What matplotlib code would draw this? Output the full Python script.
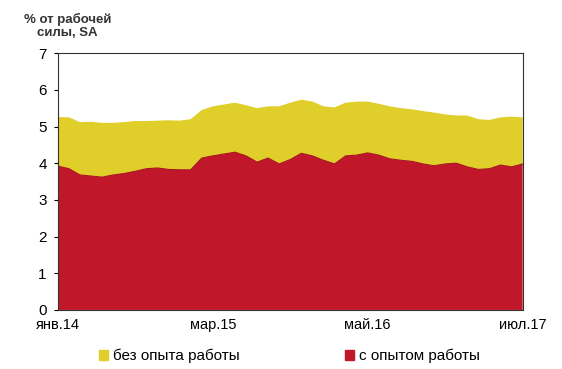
import numpy as np
import matplotlib
matplotlib.use("Agg")
import matplotlib.pyplot as plt
from matplotlib.patches import Patch

plt.rcParams["font.family"] = ["Liberation Sans", "DejaVu Sans"]

# monthly, Jan 2014 .. Jul 2017, % of labour force, seasonally adjusted
with_experience = [
    3.92, 3.85, 3.68, 3.65, 3.62, 3.68, 3.72, 3.78, 3.85, 3.87,
    3.83, 3.82, 3.82, 4.14, 4.20, 4.25, 4.30, 4.20, 4.03, 4.14,
    3.98, 4.10, 4.27, 4.20, 4.08, 3.98, 4.20, 4.22, 4.28, 4.22,
    4.12, 4.08, 4.05, 3.98, 3.93, 3.98, 4.00, 3.90, 3.83, 3.85,
    3.95, 3.90, 3.98,
]
without_experience = [
    1.34, 1.40, 1.44, 1.48, 1.48, 1.42, 1.40, 1.37, 1.30, 1.29,
    1.34, 1.34, 1.38, 1.31, 1.35, 1.35, 1.35, 1.38, 1.47, 1.41,
    1.57, 1.55, 1.46, 1.48, 1.47, 1.54, 1.45, 1.46, 1.40, 1.40,
    1.43, 1.42, 1.42, 1.44, 1.45, 1.35, 1.30, 1.40, 1.37, 1.33,
    1.30, 1.37, 1.27,
]
tick_months = [0, 14, 28, 42]
tick_labels = ["янв.14", "мар.15", "май.16", "июл.17"]
series_names = ["без опыта работы", "с опытом работы"]

RED = "#c0182a"
YELLOW = "#e0cf2a"

months = np.arange(len(with_experience))

fig = plt.figure(figsize=(5.62, 3.69), dpi=100)
ax = fig.add_axes([0.103, 0.160, 0.827, 0.696])

ax.stackplot(months, with_experience, without_experience,
             colors=[RED, YELLOW], linewidth=0)
# thin darker edge along the top of the red area
ax.plot(months, with_experience, color="#a8141f", linewidth=0.8)

ax.set_xlim(0, len(months) - 1)
ax.set_ylim(0, 7)
ax.set_yticks(range(0, 8))
ax.set_xticks(tick_months)
ax.set_xticklabels(tick_labels)
ax.tick_params(axis="y", length=3, width=0.8, labelsize=11, pad=5)
ax.tick_params(axis="x", length=0, labelsize=10.5, pad=6)
for s in ax.spines.values():
    s.set_linewidth(0.8)
    s.set_color("#333333")

fig.text(0.12, 0.93, "% от рабочей\nсилы, SA", ha="center", va="center",
         fontsize=9.5, fontweight="bold", linespacing=1.15, color="#333333")

handles = [Patch(color=YELLOW), Patch(color=RED)]
fig.legend(handles, series_names, loc="center", bbox_to_anchor=(0.515, 0.035),
           ncol=2, frameon=False, fontsize=11, handlelength=0.6,
           handleheight=0.6, handletextpad=0.3, columnspacing=6.9)

fig.savefig("out.png", dpi=100)
